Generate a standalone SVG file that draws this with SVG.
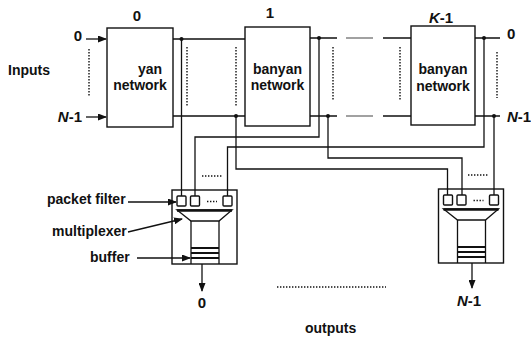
<svg xmlns="http://www.w3.org/2000/svg" width="531" height="347" viewBox="0 0 531 347">
<style>
text{font-family:"Liberation Sans",Arial,sans-serif;font-weight:bold;fill:#111}
.box{fill:#fff;stroke:#111;stroke-width:1.4}
.w{fill:none;stroke:#111;stroke-width:1.3}
.dot{fill:none;stroke:#111;stroke-width:1.4;stroke-dasharray:1.4 1.6}
.thin{fill:none;stroke:#444;stroke-width:1.1}
.j{fill:#111}
.lbl{font-size:14px}
.big{font-size:15px}
</style>
<defs>
<marker id="ah" markerWidth="9" markerHeight="7" refX="8" refY="3.5" orient="auto" markerUnits="userSpaceOnUse">
<path d="M0,0 L9,3.5 L0,7 z" fill="#111"/>
</marker>
<g id="filterbox">
<rect class="box" x="0" y="0" width="65" height="74"/>
<rect class="box" x="5" y="6" width="9" height="10" rx="1"/>
<rect class="box" x="18.5" y="6" width="9" height="10" rx="1"/>
<rect class="box" x="51" y="6" width="9" height="10" rx="1"/>
<path class="dot" d="M35,11.5 H45" stroke-width="2.2"/>
<path d="M5,20 H60 L47,31 H19 Z" fill="#fff" stroke="#111" stroke-width="1.3"/>
<path d="M5,20.5 H60" stroke="#111" stroke-width="2.5"/>
<path class="w" d="M19,31 V74 M47,31 V74"/>
<path d="M19,58 H47 M19,63 H47 M19,68 H47" stroke="#111" stroke-width="1.8"/>
</g>
</defs>

<g id="inputs-label"><text class="lbl" x="8" y="75">Inputs</text></g>

<g id="net0">
<rect class="box" x="107" y="28" width="66" height="99"/>
<text class="big" x="137" y="21" text-anchor="middle">0</text>
<text class="lbl" x="138" y="74">yan</text>
<text class="lbl" x="140" y="90" text-anchor="middle">network</text>
</g>
<g id="net1">
<rect class="box" x="245" y="27" width="65" height="99"/>
<text class="big" x="270" y="18" text-anchor="middle">1</text>
<text class="lbl" x="277.5" y="74" text-anchor="middle">banyan</text>
<text class="lbl" x="277.5" y="90" text-anchor="middle">network</text>
</g>
<g id="netK">
<rect class="box" x="411" y="26" width="64" height="99"/>
<text class="big" x="441" y="23" text-anchor="middle"><tspan font-style="italic">K</tspan>-1</text>
<text class="lbl" x="443" y="74" text-anchor="middle">banyan</text>
<text class="lbl" x="443" y="91" text-anchor="middle">network</text>
</g>

<g id="out0">
<use href="#filterbox" x="172" y="190"/>
<text class="big" x="202" y="308" text-anchor="middle">0</text>
</g>
<g id="outN">
<use href="#filterbox" x="438.5" y="189"/>
<text class="big" x="457" y="306"><tspan font-style="italic">N</tspan>-1</text>
</g>

<g id="annotations">
<text class="lbl" x="47" y="204" font-size="13.5">packet filter</text>
<text class="lbl" x="52" y="236" font-size="13.5">multiplexer</text>
<text class="lbl" x="90" y="262" font-size="13.5">buffer</text>
<text class="lbl" x="305" y="333">outputs</text>
<text class="big" x="82" y="41" text-anchor="end">0</text>
<text class="big" x="82" y="122" text-anchor="end"><tspan font-style="italic">N</tspan>-1</text>
<text class="big" x="507" y="39">0</text>
<text class="big" x="507" y="122"><tspan font-style="italic">N</tspan>-1</text>
</g>

<g id="connectors">
<path class="w" d="M86,39 H106" marker-end="url(#ah)"/>
<path class="w" d="M86,117 H106" marker-end="url(#ah)"/>
<path class="dot" d="M89,49 V97"/>
<path class="w" d="M173,39 H245 M173,116 H245"/>
<path class="w" d="M310,38 H337 M383,38 H411 M310,116 H337 M383,116 H411"/>
<path class="thin" d="M346,38 H373 M346,116 H373"/>
<path class="w" d="M475,38 H500 M475,116 H500"/>
<path class="dot" d="M187,47 V106 M236,47 V106 M333,47 V100 M400,47 V100 M497,52 V98"/>
<path class="w" d="M181.5,39 V196"/>
<path class="w" d="M236,116 V169 H447.5 V195"/>
<path class="w" d="M319,38 V137 H195 V196"/>
<path class="w" d="M328,116 V158 H462 V195"/>
<path class="w" d="M484,38 V147 H227.5 V196"/>
<path class="w" d="M494,116 V195"/>
<circle class="j" cx="181.5" cy="39" r="2"/>
<circle class="j" cx="236" cy="116" r="2"/>
<circle class="j" cx="319" cy="38" r="2"/>
<circle class="j" cx="328" cy="116" r="2"/>
<circle class="j" cx="484" cy="38" r="2"/>
<circle class="j" cx="494" cy="116" r="2"/>
<path class="dot" d="M202,176 H222 M468,175 H489" stroke-width="2"/>
<path class="w" d="M128,202 H176" marker-end="url(#ah)"/>
<path class="w" d="M128,232 L182,219" marker-end="url(#ah)"/>
<path class="w" d="M137,258 H190" marker-end="url(#ah)"/>
<path class="w" d="M202,264 V291" marker-end="url(#ah)"/>
<path class="w" d="M472,263 V288" marker-end="url(#ah)"/>
<path class="dot" d="M277,287 H386" stroke-width="1.3"/>
</g>
</svg>
